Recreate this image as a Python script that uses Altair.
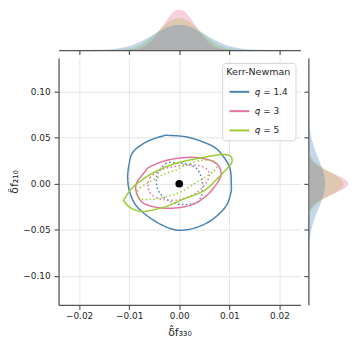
import altair as alt
import pandas as pd

FONT = "DejaVu Sans"

# ---------------- series ----------------
series_names = ["𝑞 = 1.4", "𝑞 = 3", "𝑞 = 5"]
series_colors = ["#4a84b6", "#e3739d", "#9acd32"]

# ---------------- axis ticks / domains ----------------
x_ticks = [-0.02, -0.01, 0.0, 0.01, 0.02]
y_ticks = [-0.10, -0.05, 0.0, 0.05, 0.10]
x_domain = [-0.0241, 0.0242]
y_domain = [-0.1315, 0.1365]

# ---------------- credible contours (x = δf330, y = δf210), closed loops ----------------
q14_90_x = [-0.00192, -0.00325, -0.00653, -0.00919, -0.00998, -0.0103, -0.00984, -0.00851, -0.00588,
            -0.00257, 0.0001, 0.00337, 0.00665, 0.00931, 0.0103, 0.0104, 0.0102, 0.0093, 0.00733,
            0.00467, 0.00139]
q14_90_y = [0.0524, 0.0519, 0.0455, 0.0347, 0.0223, 0.0061, -0.0100, -0.0244, -0.0369,
            -0.0470, -0.0505, -0.0476, -0.0387, -0.0244, -0.0100, -0.0011, 0.0151, 0.0258, 0.0384,
            0.0455, 0.0509]

q14_50_x = [-0.0006, -0.00257, -0.00424, -0.00455, -0.0039, -0.00192, 0.0007, 0.00337, 0.00436,
            0.00467, 0.00436, 0.00337, 0.00139]
q14_50_y = [0.0229, 0.0223, 0.0115, 0.0008, -0.0100, -0.0190, -0.0226, -0.0208, -0.0137,
            -0.0029, 0.0078, 0.0169, 0.0215]

q3_90_x = [-0.00851, -0.00687, -0.00588, -0.00257, 0.00139, 0.00467, 0.00733, 0.00832, 0.00798,
           0.006, 0.00337, 0.0001, -0.0039, -0.00721, -0.00851]
q3_90_y = [0.0008, 0.0129, 0.0183, 0.0253, 0.0285, 0.0276, 0.0223, 0.0132, 0.0043,
           -0.0100, -0.0208, -0.0258, -0.0261, -0.0208, -0.0100]

q3_50_x = [-0.00622, -0.00588, -0.0043, -0.00257, 0.00139, 0.00467, 0.006, 0.00535, 0.00337,
           0.0001, -0.00325, -0.00554]
q3_50_y = [-0.0029, 0.0065, 0.0129, 0.0169, 0.0204, 0.0186, 0.0115, 0.0008, -0.0100,
           -0.0172, -0.0172, -0.0118]

q5_90_x = [-0.01103, -0.00984, -0.0082, -0.00523, -0.00192, 0.0004, 0.00362, 0.00693, 0.00891,
           0.01022, 0.01055, 0.0099, 0.00891, 0.00758, 0.00495, 0.0004, -0.00192, -0.00455,
           -0.00752, -0.00984, -0.01103]
q5_90_y = [-0.0172, -0.0075, 0.0011, 0.0118, 0.0199, 0.0237, 0.0274, 0.0306, 0.0317,
           0.0301, 0.0242, 0.0183, 0.0129, 0.0054, -0.0075, -0.0177, -0.0233, -0.0276,
           -0.0301, -0.0258, -0.0186]

q5_50_x = [-0.00846, -0.00786, -0.00653, -0.00325, -0.0006, 0.00099, 0.00428, 0.00693, 0.00758,
           0.00693, 0.00501, 0.00303, 0.0004, -0.00192, -0.00489, -0.00727, -0.00846]
q5_50_y = [-0.0097, -0.0043, 0.0, 0.0097, 0.0151, 0.0194, 0.0253, 0.0247, 0.0199,
           0.014, 0.0065, 0.0, -0.0086, -0.0129, -0.0167, -0.0167, -0.0129]

# ---------------- injected value ----------------
truth_x = [0.0]
truth_y = [0.0]

# ---------------- marginal densities (arbitrary units) ----------------
top_grid = [-0.024, -0.022, -0.020, -0.018, -0.016, -0.014, -0.012,
            -0.010, -0.009, -0.008, -0.007, -0.006, -0.005, -0.004, -0.003, -0.002, -0.001,
            0.0,
            0.001, 0.002, 0.003, 0.004, 0.005, 0.006, 0.007, 0.008, 0.009, 0.010,
            0.012, 0.014, 0.016, 0.018, 0.020, 0.022, 0.024]
top_q14 = [0, 0, 0.02, 0.07, 0.23, 0.7, 1.8,
           4.1, 5.8, 8.0, 10.5, 13.4, 16.4, 19.3, 22.0, 24.1, 25.5,
           26.0,
           25.5, 24.1, 22.0, 19.3, 16.4, 13.4, 10.5, 8.0, 5.8, 4.1,
           1.8, 0.7, 0.23, 0.07, 0.02, 0, 0]
top_q3 = [0, 0, 0, 0, 0, 0, 0.04,
          0.36, 0.88, 2.0, 4.0, 7.5, 12.7, 19.5, 27.2, 34.5, 39.8,
          41.7,
          39.8, 34.5, 27.2, 19.5, 12.7, 7.5, 4.0, 2.0, 0.88, 0.36,
          0.04, 0, 0, 0, 0, 0, 0]
top_q5 = [0, 0, 0, 0, 0.02, 0.1, 0.46,
          1.7, 3.0, 4.9, 7.7, 11.3, 15.7, 20.5, 25.2, 29.3, 32.0,
          33.0,
          32.0, 29.3, 25.2, 20.5, 15.7, 11.3, 7.7, 4.9, 3.0, 1.7,
          0.46, 0.1, 0.02, 0, 0, 0, 0]

right_grid = [-0.13, -0.12, -0.11, -0.10,
              -0.09, -0.085, -0.08, -0.075, -0.07, -0.065, -0.06, -0.055, -0.05, -0.045,
              -0.04, -0.035, -0.03, -0.025, -0.02, -0.015, -0.01, -0.005,
              0.0,
              0.005, 0.01, 0.015, 0.02, 0.025, 0.03, 0.035, 0.04, 0.045, 0.05,
              0.055, 0.06, 0.065, 0.07, 0.075, 0.08, 0.085, 0.09,
              0.10, 0.11, 0.12, 0.13]
right_q14 = [0, 0, 0, 0.02,
             0.06, 0.12, 0.2, 0.35, 0.6, 0.9, 1.4, 2.1, 3.0, 4.2,
             5.6, 7.2, 9.0, 10.9, 12.7, 14.3, 15.6, 16.4,
             16.7,
             16.4, 15.6, 14.3, 12.7, 10.9, 9.0, 7.2, 5.6, 4.2, 3.0,
             2.1, 1.4, 0.9, 0.6, 0.35, 0.2, 0.12, 0.06,
             0.02, 0, 0, 0]
right_q3 = [0, 0, 0, 0,
            0, 0, 0, 0, 0, 0, 0, 0, 0, 0.01,
            0.08, 0.36, 1.3, 3.6, 8.6, 16.8, 27.2, 36.3,
            40.0,
            36.3, 27.2, 16.8, 8.6, 3.6, 1.3, 0.36, 0.08, 0.01, 0,
            0, 0, 0, 0, 0, 0, 0, 0,
            0, 0, 0, 0]
right_q5 = [0, 0, 0, 0,
            0, 0, 0, 0, 0, 0, 0, 0, 0.02, 0.09,
            0.31, 0.94, 2.4, 5.5, 10.7, 18.0, 26.0, 32.5,
            35.0,
            32.5, 26.0, 18.0, 10.7, 5.5, 2.4, 0.94, 0.31, 0.09, 0.02,
            0, 0, 0, 0, 0, 0, 0, 0,
            0, 0, 0, 0]

# ---------------- tables ----------------
contour_sets = [
    (series_names[0], "90", q14_90_x, q14_90_y),
    (series_names[0], "50", q14_50_x, q14_50_y),
    (series_names[1], "90", q3_90_x, q3_90_y),
    (series_names[1], "50", q3_50_x, q3_50_y),
    (series_names[2], "90", q5_90_x, q5_90_y),
    (series_names[2], "50", q5_50_x, q5_50_y),
]
rows = []
for cid, (s, lev, xs, ys) in enumerate(contour_sets):
    for i, (xv, yv) in enumerate(zip(xs, ys)):
        rows.append({"series": s, "level": lev, "cid": cid, "i": i, "x": xv, "y": yv})
df_c = pd.DataFrame(rows)
df_truth = pd.DataFrame({"x": truth_x, "y": truth_y})

top_vals = {series_names[0]: top_q14, series_names[1]: top_q3, series_names[2]: top_q5}
right_vals = {series_names[0]: right_q14, series_names[1]: right_q3, series_names[2]: right_q5}

MAIN_W, MAIN_H = 244, 249
TOP_H, RIGHT_W = 41, 42
TICK = 4.5

xscale = alt.Scale(domain=x_domain, nice=False, zero=False)
yscale = alt.Scale(domain=y_domain, nice=False, zero=False)

legend = alt.Legend(
    title="Kerr-Newman", orient="top-right", offset=5,
    symbolType="stroke", symbolSize=400, symbolStrokeWidth=2,
    titleFont=FONT, titleFontSize=9.6, titleFontWeight="normal", titleColor="#262626",
    titleAnchor="middle", titlePadding=4,
    labelFont=FONT, labelFontSize=9, labelColor="#262626", labelOffset=5,
    rowPadding=3.5,
    fillColor="rgba(255,255,255,0.8)", strokeColor="#d6d6d6", cornerRadius=3,
    padding=4.5,
)

color = alt.Color("series:N",
                  scale=alt.Scale(domain=series_names, range=series_colors),
                  legend=legend)

lines = alt.Chart(df_c).mark_line(strokeWidth=1.5, clip=True,
                                  interpolate="cardinal-closed").encode(
    x=alt.X("x:Q", scale=xscale,
            axis=alt.Axis(values=x_ticks, format=".2f", title="δ̂f₃₃₀", grid=True,
                          titleFontSize=11, titlePadding=6, labelPadding=2)),
    y=alt.Y("y:Q", scale=yscale,
            axis=alt.Axis(values=y_ticks, format=".2f", title="δ̂f₂₁₀", grid=True,
                          titleFontSize=11, titlePadding=3, labelPadding=4)),
    color=color,
    strokeDash=alt.StrokeDash("level:N",
                              scale=alt.Scale(domain=["90", "50"], range=[[1, 0], [1.5, 2.5]]),
                              legend=None),
    detail="cid:N",
    order="i:Q",
)

dot = alt.Chart(df_truth).mark_circle(size=60, color="black", opacity=1).encode(
    x=alt.X("x:Q", scale=xscale), y=alt.Y("y:Q", scale=yscale))

main = alt.layer(lines, dot).properties(width=MAIN_W, height=MAIN_H)

draw_order = [(series_names[2], series_colors[2]),
              (series_names[1], series_colors[1]),
              (series_names[0], series_colors[0])]

top_layers = []
for s, c in draw_order:
    d = pd.DataFrame({"pos": top_grid, "dens": top_vals[s]})
    top_layers.append(
        alt.Chart(d).mark_area(color=c, fillOpacity=0.32, interpolate="monotone", clip=True).encode(
            x=alt.X("pos:Q", scale=xscale,
                    axis=alt.Axis(values=x_ticks, labels=False, title=None, grid=False)),
            y=alt.Y("dens:Q", scale=alt.Scale(domain=[0, 41.7], nice=False), axis=None),
        )
    )
top = alt.layer(*top_layers).properties(width=MAIN_W, height=TOP_H)

right_layers = []
for s, c in draw_order:
    d = pd.DataFrame({"pos": right_grid, "dens": right_vals[s]})
    right_layers.append(
        alt.Chart(d).mark_area(color=c, fillOpacity=0.32, interpolate="monotone",
                               orient="horizontal", clip=True).encode(
            y=alt.Y("pos:Q", scale=yscale,
                    axis=alt.Axis(values=y_ticks, labels=False, title=None, grid=False)),
            x=alt.X("dens:Q", scale=alt.Scale(domain=[0, 41.5], nice=False), axis=None),
        )
    )
right = alt.layer(*right_layers).properties(width=RIGHT_W, height=MAIN_H)

row = alt.hconcat(main, right, spacing=8, bounds="flush").resolve_scale(
    color="independent").resolve_legend(color="independent")
chart = alt.vconcat(top, row, spacing=8, bounds="flush").resolve_scale(
    color="independent").resolve_legend(color="independent").properties(
    padding={"left": 0, "top": 0, "right": 0, "bottom": 0}
).configure_view(stroke=None).configure_axis(
    labelFont=FONT, titleFont=FONT, labelFontSize=9, labelColor="#262626",
    titleColor="#262626", titleFontWeight="normal",
    tickColor="#555555", domainColor="#555555", tickWidth=1.2, domainWidth=1.3,
    tickSize=TICK, gridColor="#e3e3e3", gridWidth=0.9,
)

chart.save("out.html", embed_options={"renderer": "svg", "actions": False})
